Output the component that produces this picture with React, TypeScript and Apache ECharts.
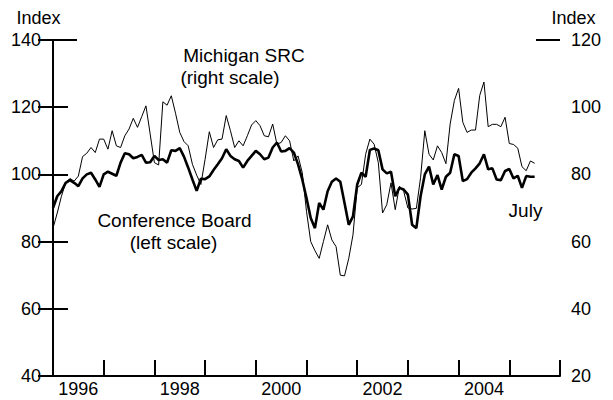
import React, { useEffect, useRef } from "react";
import * as echarts from "echarts";

// Monthly observations starting January 1996 (index 0) through July 2005
const yearLabels = ["1996", "1998", "2000", "2002", "2004"];

// Conference Board index (left scale)
const conferenceBoard = [
  90, 93.5, 95, 97.5, 98.3, 97.5, 96.5, 98.8, 100, 100.5, 98.5, 96.3,
  100, 100.8, 100.2, 99.6, 103.5, 106.3, 106, 104.8, 105.2, 105.8, 103.5, 103.6,
  105.5, 104.3, 104.5, 103.5, 107.2, 107, 107.8, 105.3, 102, 98.5, 95.1, 98.7,
  98.6, 99.4, 101.3, 103, 104.8, 107.5, 105.5, 104.5, 104, 102, 104, 105.5,
  107, 106, 104.5, 105, 108, 109.5, 106.8, 107, 107.8, 106.5, 103, 98.5,
  93, 87, 84, 91.5, 89.5, 95, 97.8, 98.8, 97.8, 91.5, 85, 87.5,
  97, 100.5, 99.3, 107.3, 107.7, 107.2, 101.5, 100.3, 100.8, 93.5, 96, 95.5,
  94, 85, 84, 93.5, 100, 102.3, 97, 99.8, 95.5, 99.3, 100.5, 106,
  105.5, 98, 98.6, 100.5, 101.8, 103.3, 106, 101.5, 101.8, 98.5, 98.3, 101,
  101.6, 98.8, 99.6, 96, 99.5, 99.3, 99.3,
];

// Michigan SRC index (right scale)
const michiganSRC = [
  64, 68.5, 73.5, 77.5, 78.8, 78, 79.5, 85.3, 86.3, 88, 86.5, 90.5,
  90.5, 87.5, 93, 88.5, 88, 91.5, 93.5, 96.7, 94, 97.2, 100.4, 92,
  83.5, 82.8, 101.6, 100.6, 103.4, 98.2, 92.5, 89.8, 88.5, 83, 79.8, 77,
  84.5, 92.7, 88, 90.3, 90.5, 97.5, 93, 88, 90, 88.5, 91.5, 94.7,
  96, 94.5, 91.5, 91.2, 95, 89, 89.5, 91.5, 90, 84, 85.5, 80.5,
  69, 60, 57.3, 55, 60, 65, 60.5, 58.5, 50, 49.8, 55, 62,
  76, 77, 86, 90.5, 89, 83.5, 68.5, 71, 77.5, 69.5, 76.5, 75,
  70, 69.7, 69.9, 79, 93, 86, 84.3, 88.5, 86.5, 83.2, 95, 102,
  105.6, 95.5, 92.5, 93.2, 93.2, 103.5, 107.5, 94.2, 94.9, 94.9, 94.2, 97,
  89.2, 88.9, 87.8, 82.3, 81.1, 84, 83.3,
];

const FONT = "'Liberation Sans', Arial, Helvetica, sans-serif";

export default function App() {
  const ref = useRef<HTMLDivElement>(null);

  useEffect(() => {
    if (!ref.current) return;
    const chart = echarts.init(ref.current, null, { renderer: "svg" });
    const black = "#000";
    const axisLine = { show: true, lineStyle: { color: black, width: 2 } };
    const txt = (text: string, x: number, y: number, size = 18) => ({
      type: "text",
      x,
      y,
      silent: true,
      style: {
        text,
        fill: black,
        fontSize: size,
        fontFamily: FONT,
        align: "center",
        verticalAlign: "middle",
      },
    });

    chart.setOption({
      animation: false,
      backgroundColor: "#fff",
      grid: {
        left: 53,
        right: 53,
        top: 40,
        bottom: 24,
        containLabel: false,
        outerBoundsMode: "none",
      },
      xAxis: [
        {
          type: "value",
          min: 0,
          max: 120,
          interval: 12,
          position: "bottom",
          axisLine,
          axisTick: { show: true, inside: true, length: 16, lineStyle: { color: black, width: 2 } },
          axisLabel: { show: false },
          splitLine: { show: false },
        },
        {
          type: "value",
          min: 0,
          max: 120,
          interval: 6,
          position: "bottom",
          axisLine: { show: false },
          axisTick: { show: false },
          splitLine: { show: false },
          axisLabel: {
            show: true,
            margin: 4,
            fontSize: 18,
            fontFamily: FONT,
            color: black,
            formatter: (v: number) => {
              const k = (v - 6) / 24;
              return Number.isInteger(k) && yearLabels[k] ? yearLabels[k] : "";
            },
          },
        },
      ],
      yAxis: [
        {
          type: "value",
          position: "left",
          min: 40,
          max: 140,
          interval: 20,
          axisLine,
          axisTick: { show: true, inside: true, length: 15, lineStyle: { color: black, width: 2 } },
          axisLabel: { margin: 12, fontSize: 18, fontFamily: FONT, color: black },
          splitLine: { show: false },
        },
        {
          type: "value",
          position: "right",
          min: 20,
          max: 120,
          interval: 20,
          axisLine,
          axisTick: { show: true, inside: true, length: 15, lineStyle: { color: black, width: 2 } },
          axisLabel: { margin: 11, fontSize: 18, fontFamily: FONT, color: black },
          splitLine: { show: false },
        },
      ],
      series: [
        {
          name: "Michigan SRC",
          type: "line",
          xAxisIndex: 0,
          yAxisIndex: 1,
          showSymbol: false,
          symbol: "none",
          lineStyle: { color: black, width: 1 },
          data: michiganSRC.map((v, i) => [i, v]),
          z: 2,
        },
        {
          name: "Conference Board",
          type: "line",
          xAxisIndex: 0,
          yAxisIndex: 0,
          showSymbol: false,
          symbol: "none",
          lineStyle: { color: black, width: 2.6 },
          data: conferenceBoard.map((v, i) => [i, v]),
          z: 3,
        },
      ],
    });

    // longer top ticks on both value axes, positioned from the axes themselves
    const [lx, ty] = chart.convertToPixel({ xAxisIndex: 0, yAxisIndex: 0 }, [0, 140]) as number[];
    const [rx] = chart.convertToPixel({ xAxisIndex: 0, yAxisIndex: 0 }, [120, 140]) as number[];
    const tickStyle = { stroke: black, lineWidth: 2 };

    chart.setOption({
      graphic: [
        { type: "line", silent: true, shape: { x1: lx, y1: ty, x2: lx + 24, y2: ty }, style: tickStyle },
        { type: "line", silent: true, shape: { x1: rx - 24, y1: ty, x2: rx, y2: ty }, style: tickStyle },
        txt("Index", 38.5, 18),
        txt("Index", 573.5, 18),
        txt("Michigan SRC", 244, 55, 19),
        txt("(right scale)", 230, 77, 19),
        txt("Conference Board", 174.5, 220, 19),
        txt("(left scale)", 173.5, 242, 19),
        txt("July", 525.5, 210, 19),
      ],
    });

    return () => chart.dispose();
  }, []);

  return (
    <div
      ref={ref}
      style={{ position: "fixed", left: 0, top: 0, width: 613, height: 400, background: "#fff" }}
    />
  );
}
